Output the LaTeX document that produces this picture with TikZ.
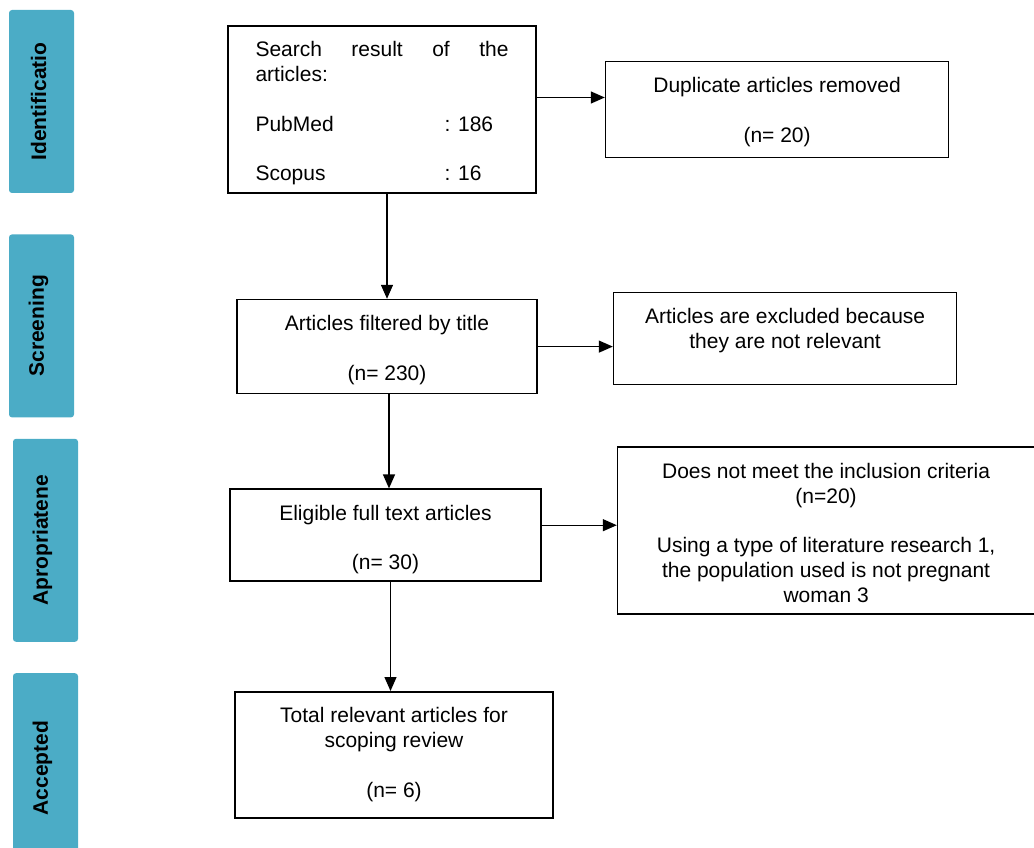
\documentclass[tikz,border=0pt]{standalone}
\usepackage{fontspec}
\setmainfont{Liberation Sans}
\usepackage{xcolor}
\usetikzlibrary{arrows.meta, positioning}
\definecolor{phasecol}{HTML}{4BACC6}
\newcommand{\boxtext}[3]{\parbox[c][#2][t]{#1}{\centering\rule{0pt}{31pt}#3}}
\newcommand{\phasetext}[1]{\rotatebox{90}{\raisebox{3pt}[\height][\depth]{#1}}}

\begin{document}
\begin{tikzpicture}[
        x=1pt, y=1pt,
        node distance=68pt,
        font=\fontsize{21}{24.8}\selectfont,
        box/.style={rectangle, draw, line width=1.6pt, inner sep=0pt},
        phase/.style={rectangle, rounded corners=3pt, fill=phasecol, minimum width=65pt, inner sep=0pt, font=\fontsize{21}{24.8}\selectfont\bfseries},
        arrowline/.style={-{Triangle[length=14pt,width=12pt]}, line width=1.3pt}
    ]
    \useasboundingbox (0,0) rectangle (1034,-848);
    % stage bars
    \node[phase, minimum height=183pt] (ident) at (41.5,-101.5) {\phasetext{Identificatio}};
    \node[phase, minimum height=183pt, below=41pt of ident] (screen) {\phasetext{Screening}};
    \node[phase, minimum height=203pt, below=21pt of screen, xshift=4pt] (approp) {\phasetext{Apropriatene}};
    \node[phase, minimum height=190pt, below=31pt of approp] (accept) {\phasetext{Accepted}};
    % flow boxes
    \node[box] (search) at (382,-109.5) {\boxtext{308pt}{167pt}{\parbox[t]{253pt}{Search\hfill result\hfill of\hfill the\\ articles:\\[\baselineskip] \makebox[189pt][l]{PubMed}: 186\\[\baselineskip] \makebox[189pt][l]{Scopus}: 16}}};
    \node[box, right=of search] (dup) {\boxtext{343pt}{96pt}{Duplicate articles removed\\[\baselineskip] (n= 20)}};
    \node[box, below=105pt of search, xshift=5pt] (filtered) {\boxtext{300pt}{94pt}{Articles filtered by title\\[\baselineskip] (n= 230)}};
    \node[box, right=75pt of filtered, yshift=8pt] (excluded) {\boxtext{343pt}{92pt}{Articles are excluded because\\ they are not relevant}};
    \node[box, below=94pt of filtered, xshift=-1.5pt] (eligible) {\boxtext{311pt}{92pt}{Eligible full text articles\\[\baselineskip] (n= 30)}};
    \node[box, right=75pt of eligible, yshift=4.5pt] (criteria) {\boxtext{417pt}{167pt}{Does not meet the inclusion criteria\\ (n=20)\\[\baselineskip] Using a type of literature research 1,\\ the population used is not pregnant\\ woman 3}};
    \node[box, below=109pt of eligible, xshift=8.5pt] (total) {\boxtext{318pt}{126pt}{Total relevant articles for\\ scoping review\\[\baselineskip] (n= 6)}};
    % connectors
    \draw[arrowline] (search.south -| filtered.north) -- (filtered.north);
    \draw[arrowline] ([xshift=2pt]filtered.south) -- ([xshift=2pt]filtered.south |- eligible.north);
    \draw[arrowline] ([xshift=5pt]eligible.south) -- ([xshift=5pt]eligible.south |- total.north);
    \draw[arrowline] ([yshift=12pt]search.east) -- ([yshift=12pt]search.east -| dup.west);
    \draw[arrowline] (filtered.east) -- (filtered.east -| excluded.west);
    \draw[arrowline] ([yshift=10pt]eligible.east) -- ([yshift=10pt]eligible.east -| criteria.west);
\end{tikzpicture}
\end{document}
